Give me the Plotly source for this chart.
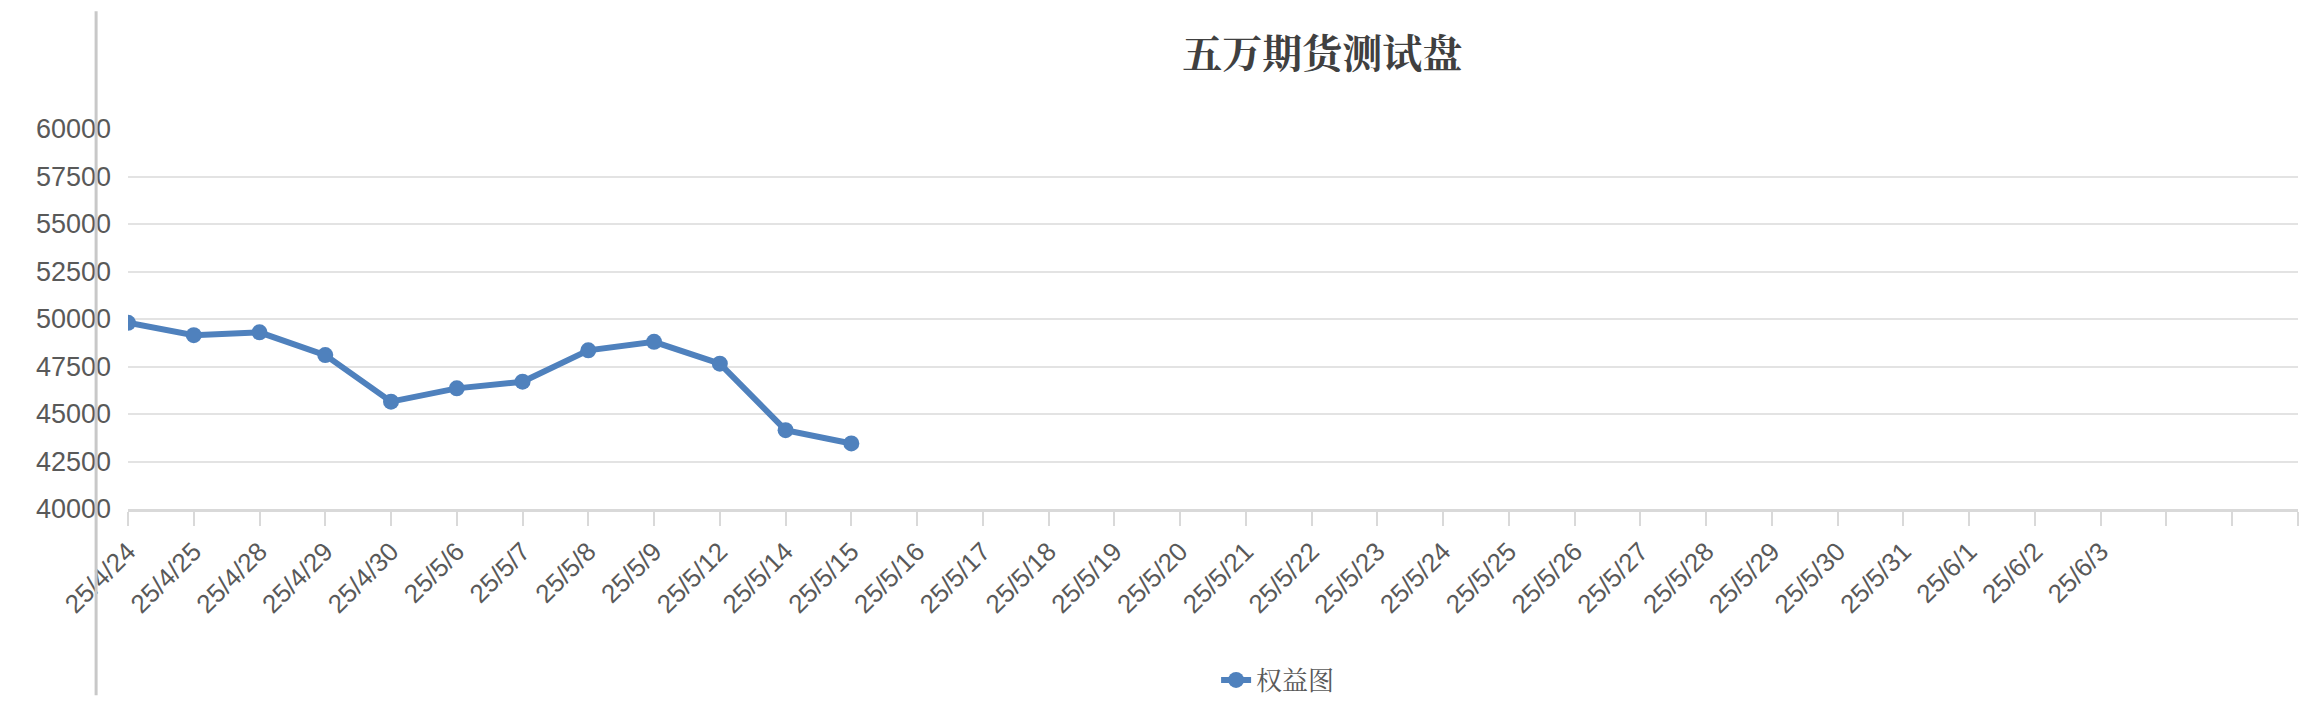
import plotly.graph_objects as go

dates = ["25/4/24","25/4/25","25/4/28","25/4/29","25/4/30","25/5/6","25/5/7","25/5/8","25/5/9",
         "25/5/12","25/5/14","25/5/15"] + [f"25/5/{d}" for d in range(16, 32)] + ["25/6/1","25/6/2","25/6/3"]
categories = dates + [" ", "  ", "   "]
equity = [49800, 49150, 49300, 48100, 45650, 46350, 46700, 48350, 48800, 47650, 44150, 43450]
yticks = [40000, 42500, 45000, 47500, 50000, 52500, 55000, 57500, 60000]

blue = "#4f81bd"
fig = go.Figure()
fig.add_trace(go.Scatter(x=categories[:len(equity)], y=equity, mode="lines+markers", name="权益图",
                         line=dict(color=blue, width=6), marker=dict(color=blue, size=16)))
fig.update_layout(
    width=2314, height=708, paper_bgcolor="white", plot_bgcolor="white",
    margin=dict(l=120, r=24, t=121, b=194),
    title=dict(text="<b>五万期货测试盘</b>", x=0.568, xanchor="center", y=0.935, yanchor="middle",
               font=dict(family="Noto Serif CJK SC, Noto Sans CJK SC", size=40, color="#404040")),
    font=dict(family="Liberation Sans, Arial", color="#595959"),
    showlegend=True,
    legend=dict(orientation="h", x=0.53, xanchor="center", y=-0.45, yanchor="middle",
                font=dict(family="Noto Serif CJK SC, Noto Sans CJK SC", size=26, color="#595959")),
    xaxis=dict(type="category", categoryorder="array", categoryarray=categories,
               range=[0, len(categories) - 1], tickangle=-45, showgrid=False,
               showline=True, linecolor="#d9d9d9", linewidth=3, ticks="outside",
               tickcolor="#d9d9d9", ticklen=14, tickwidth=2, tickfont=dict(size=26)),
    yaxis=dict(range=[40000, 60000], tickvals=yticks, tickformat="d", showgrid=True,
               gridcolor="#e3e3e3", gridwidth=2, zeroline=False, tickfont=dict(size=27),
               ticklabelstandoff=16),
)
fig.add_shape(type="line", xref="paper", yref="paper", x0=-0.0147, x1=-0.0147, y0=-0.49, y1=1.31,
              line=dict(color="#c8c8c8", width=3))
fig.write_html("out.html")
